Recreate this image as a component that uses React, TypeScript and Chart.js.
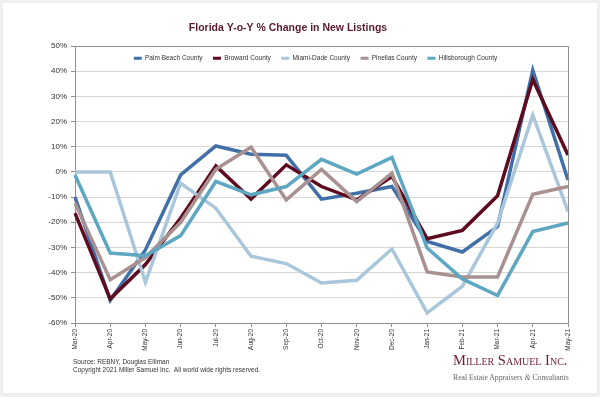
import React, { useEffect, useRef } from "react";
import { Chart, registerables } from "chart.js";

Chart.register(...registerables);

const months = ["Mar-20", "Apr-20", "May-20", "Jun-20", "Jul-20", "Aug-20", "Sep-20", "Oct-20", "Nov-20", "Dec-20", "Jan-21", "Feb-21", "Mar-21", "Apr-21", "May-21"];
const palmBeach = [-10, -51, -31, -1.2, 10.3, 7, 6.6, -10.8, -8.5, -5.8, -27.6, -31.8, -21.7, 40.4, -3.2];
const broward = [-16.4, -50.4, -36.8, -18.3, 2.4, -10.8, 2.8, -5.8, -11.1, -1.8, -26.5, -23.2, -9.5, 36.7, 6.7];
const miamiDade = [0, 0, -43.8, -4.5, -14.4, -33.5, -36.4, -44.1, -43, -30.6, -56, -45.4, -20.3, 22.6, -15.7];
const pinellas = [-12.4, -42.8, -34, -20, 1, 9.8, -11.1, 1, -11.8, -0.5, -39.7, -41.7, -41.7, -8.9, -5.8];
const hillsborough = [-1.2, -32.2, -33.3, -25.3, -3.8, -9.1, -5.8, 5, -0.9, 5.8, -30.2, -42.5, -49.1, -23.7, -20.3];

const seriesNames = ["Palm Beach County", "Broward County", "Miami-Dade County", "Pinellas County", "Hillsborough County"];
const seriesData = [palmBeach, broward, miamiDade, pinellas, hillsborough];
const seriesColors = ["#4170a8", "#5e0b20", "#a9c6da", "#a89190", "#5ea7c2"];

const FONT = "'Liberation Sans', Arial, sans-serif";

export default function App() {
  const ref = useRef<HTMLCanvasElement>(null);

  useEffect(() => {
    document.body.style.margin = "0";
    const borderPlugin = {
      id: "plotBorder",
      afterDraw(chart: any) {
        const { ctx, chartArea: a } = chart;
        ctx.save();
        ctx.strokeStyle = "#8f8f8f";
        ctx.lineWidth = 1;
        ctx.beginPath();
        ctx.moveTo(a.left, Math.round(a.top) + 0.5);
        ctx.lineTo(Math.round(a.right) + 0.5, Math.round(a.top) + 0.5);
        ctx.lineTo(Math.round(a.right) + 0.5, a.bottom);
        ctx.stroke();
        ctx.restore();
      },
    };
    // Let the legend take no layout space, then move it inside the plot area.
    const legendInside = {
      id: "legendInside",
      beforeLayout(chart: any) {
        const lg = chart.legend;
        if (lg && !lg._patched) {
          const orig = lg.fit.bind(lg);
          lg.fit = function () {
            orig();
            this._realHeight = this.height;
            this.height = 0;
          };
          lg._patched = true;
        }
      },
      afterLayout(chart: any) {
        const lg = chart.legend;
        const a = chart.chartArea;
        if (!lg) return;
        const h = lg._realHeight || 20;
        lg.top = a.top - 5;
        lg.bottom = lg.top + h;
        lg.height = h;
        lg.left = a.left - 12;
        lg.right = a.right;
        lg.width = lg.right - lg.left;
      },
    };
    const chart = new Chart(ref.current as HTMLCanvasElement, {
      type: "line",
      data: {
        labels: months,
        datasets: seriesNames.map((name, i) => ({
          label: name,
          data: seriesData[i],
          borderColor: seriesColors[i],
          backgroundColor: seriesColors[i],
          borderWidth: 3.5,
          pointRadius: 0,
          tension: 0,
          fill: false,
          order: seriesNames.length - i,
        })),
      },
      options: {
        responsive: false,
        animation: false,
        layout: { padding: { left: 8, right: 32, top: 21.5, bottom: 0 } },
        plugins: {
          title: {
            display: true,
            text: "Florida Y-o-Y % Change in New Listings",
            color: "#5a1a2b",
            font: { family: FONT, size: 10.5, weight: "bold" },
            padding: { top: 0, bottom: 11.9 },
          },
          legend: {
            position: "top",
            align: "center",
            title: { display: true, text: " ", font: { size: 3 }, padding: 0 },
            labels: {
              boxWidth: 8,
              boxHeight: 3,
              padding: 10.5,
              color: "#333",
              font: { family: FONT, size: 6.5 },
              generateLabels: (c: any) =>
                c.data.datasets.map((ds: any, i: number) => ({
                  text: ds.label,
                  fillStyle: ds.borderColor,
                  strokeStyle: ds.borderColor,
                  lineWidth: 0,
                  hidden: false,
                  datasetIndex: i,
                  fontColor: "#333",
                })),
            },
          },
          tooltip: { enabled: false },
        },
        scales: {
          x: {
            offset: false,
            afterFit: (s: any) => {
              s.height = 74;
            },
            grid: {
              offset: false,
              drawOnChartArea: false,
              drawTicks: true,
              tickLength: 4,
              color: "#8f8f8f",
            },
            border: { color: "#8f8f8f" },
            ticks: {
              autoSkip: false,
              maxRotation: 90,
              minRotation: 90,
              padding: 2,
              color: "#333",
              font: { family: FONT, size: 6.5 },
            },
          },
          y: {
            min: -60,
            max: 50,
            afterFit: (s: any) => {
              s.width = 67;
            },
            grid: {
              color: "#d6d6d6",
              tickColor: "#8f8f8f",
              tickLength: 4,
            },
            border: { color: "#8f8f8f" },
            ticks: {
              stepSize: 10,
              padding: 4,
              color: "#333",
              font: { family: FONT, size: 8 },
              callback: (v: any) => v + "%",
            },
          },
        },
      },
      plugins: [legendInside, borderPlugin],
    } as any);
    return () => chart.destroy();
  }, []);

  return (
    <div style={{ position: "fixed", left: 0, top: 0, width: 600, height: 397, background: "#efefef", overflow: "hidden" }}>
      <div style={{ position: "absolute", left: 3, top: 3, width: 594, height: 390, background: "#fff" }} />
      <canvas ref={ref} width={600} height={397} style={{ position: "absolute", left: 0, top: 0 }} />
      <div style={{ position: "absolute", left: 73, top: 358, fontFamily: FONT, fontSize: 6.5, lineHeight: "8px", color: "#333", whiteSpace: "pre" }}>
        Source: REBNY, Douglas Elliman
      </div>
      <div style={{ position: "absolute", left: 73, top: 366, fontFamily: FONT, fontSize: 6.5, lineHeight: "8px", color: "#333", whiteSpace: "pre" }}>
        {"Copyright 2021 Miller Samuel Inc.  All world wide rights reserved."}
      </div>
      <div style={{ position: "absolute", left: 453, top: 352, fontFamily: "'Liberation Serif', 'Times New Roman', serif", fontSize: 14.5, lineHeight: "16px", color: "#6e1f2f", fontVariant: "small-caps", whiteSpace: "pre" }}>
        Miller Samuel Inc.
      </div>
      <div style={{ position: "absolute", left: 453, top: 373, fontFamily: "'Liberation Serif', 'Times New Roman', serif", fontSize: 7.7, lineHeight: "10px", color: "#666", whiteSpace: "pre" }}>
        Real Estate Appraisers <i>&amp;</i> Consultants
      </div>
    </div>
  );
}
